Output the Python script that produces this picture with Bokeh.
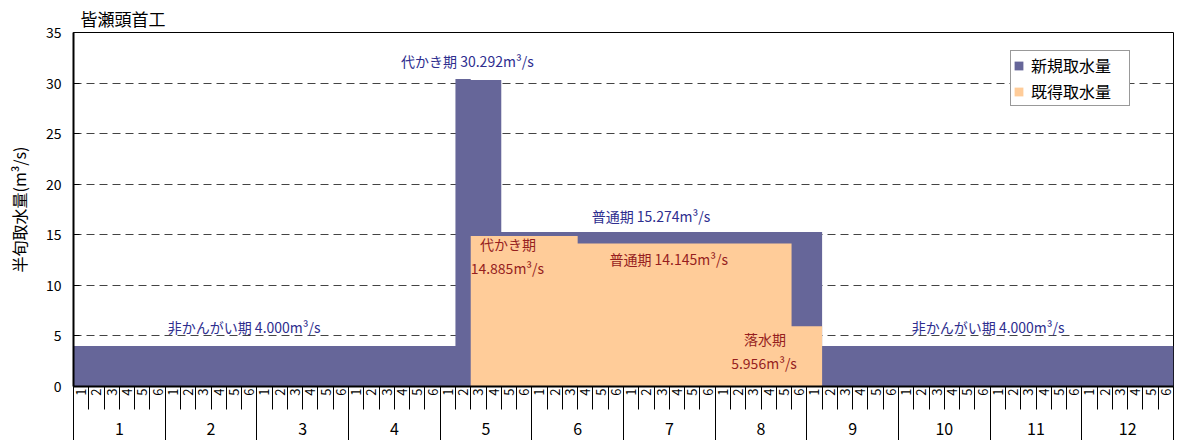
import math
from bokeh.plotting import figure
from bokeh.models import Range1d, LinearAxis, FixedTicker, Legend, LegendItem
from bokeh.core.properties import value
from bokeh.embed import file_html
from bokeh.resources import INLINE

FONT = "Noto Sans CJK JP"

# ---- data -------------------------------------------------------------
title_text = "皆瀬頭首工"
y_label = "半旬取水量(m³/s)"
month_labels = ["1", "2", "3", "4", "5", "6", "7", "8", "9", "10", "11", "12"]
period_labels = ["1", "2", "3", "4", "5", "6"]
series_names = ["新規取水量", "既得取水量"]

# total intake (新規 + 既得) per half-month period, month by month
total_intake = [
    4.0, 4.0, 4.0, 4.0, 4.0, 4.0,                     # 1
    4.0, 4.0, 4.0, 4.0, 4.0, 4.0,                     # 2
    4.0, 4.0, 4.0, 4.0, 4.0, 4.0,                     # 3
    4.0, 4.0, 4.0, 4.0, 4.0, 4.0,                     # 4
    4.0, 30.4, 30.292, 30.292, 15.274, 15.274,        # 5
    15.274, 15.274, 15.274, 15.274, 15.274, 15.274,   # 6
    15.274, 15.274, 15.274, 15.274, 15.274, 15.274,   # 7
    15.274, 15.274, 15.274, 15.274, 15.274, 15.274,   # 8
    15.274, 4.0, 4.0, 4.0, 4.0, 4.0,                  # 9
    4.0, 4.0, 4.0, 4.0, 4.0, 4.0,                     # 10
    4.0, 4.0, 4.0, 4.0, 4.0, 4.0,                     # 11
    4.0, 4.0, 4.0, 4.0, 4.0, 4.0,                     # 12
]
# existing intake (既得取水量)
existing_intake = [
    0, 0, 0, 0, 0, 0,                                 # 1
    0, 0, 0, 0, 0, 0,                                 # 2
    0, 0, 0, 0, 0, 0,                                 # 3
    0, 0, 0, 0, 0, 0,                                 # 4
    0, 0, 14.885, 14.885, 14.885, 14.885,             # 5
    14.885, 14.885, 14.885, 14.145, 14.145, 14.145,   # 6
    14.145, 14.145, 14.145, 14.145, 14.145, 14.145,   # 7
    14.145, 14.145, 14.145, 14.145, 14.145, 5.956,    # 8
    5.956, 0, 0, 0, 0, 0,                             # 9
    0, 0, 0, 0, 0, 0,                                 # 10
    0, 0, 0, 0, 0, 0,                                 # 11
    0, 0, 0, 0, 0, 0,                                 # 12
]

# annotations: text, x (period units), y (m3/s)
blue_notes = ["非かんがい期 4.000m³/s", "代かき期 30.292m³/s", "普通期 15.274m³/s", "非かんがい期 4.000m³/s"]
blue_note_x = [11.17, 25.78, 37.8, 59.87]
blue_note_y = [5.88, 32.16, 16.86, 5.88]
red_notes = ["代かき期", "14.885m³/s", "普通期 14.145m³/s", "落水期", "5.956m³/s"]
red_note_x = [28.44, 28.4, 38.96, 45.26, 45.2]
red_note_y = [14.12, 11.67, 12.65, 4.71, 2.35]

BLUE = "#666699"
ORANGE = "#FFCC99"

# ---- step geometry from data -----------------------------------------
n = len(total_intake)
xs, tot_s, ex_s = [], [], []
for i in range(n):
    xs += [i, i + 1]
    tot_s += [total_intake[i], total_intake[i]]
    ex_s += [existing_intake[i], existing_intake[i]]

p = figure(width=1174, height=440, output_backend="svg", toolbar_location=None,
           x_range=Range1d(0, n), y_range=Range1d(0, 35),
           x_axis_location=None, y_axis_location="left",
           min_border_left=73, min_border_right=1, min_border_top=32, min_border_bottom=54)
p.background_fill_color = "white"
p.border_fill_color = "white"
p.outline_line_color = "black"
p.outline_line_width = 1

p.title.text = title_text
p.title.text_font = FONT
p.title.text_font_size = "17px"
p.title.text_font_style = "normal"
p.title.text_color = "black"
p.title.offset = 7
p.title.standoff = 4

blue_r = p.varea(x=xs, y1=[0] * len(xs), y2=tot_s, fill_color=BLUE)
orange_r = p.varea(x=xs, y1=[0] * len(xs), y2=ex_s, fill_color=ORANGE)

# y axis
yax = p.yaxis[0]
yax.ticker = FixedTicker(ticks=[0, 5, 10, 15, 20, 25, 30, 35])
yax.major_tick_in = 6
yax.major_tick_out = 0
yax.minor_tick_line_color = None
yax.axis_line_width = 2
yax.axis_line_color = "black"
yax.major_tick_line_color = "black"
yax.major_label_text_font = FONT
yax.major_label_text_font_size = "14px"
yax.major_label_text_color = "black"
yax.major_label_standoff = 12
yax.axis_label = y_label
yax.axis_label_text_font = FONT
yax.axis_label_text_font_size = "16px"
yax.axis_label_text_font_style = "normal"
yax.axis_label_text_color = "black"
yax.axis_label_standoff = 12

for g in p.grid:
    if g.dimension == 0:
        g.visible = False
p.ygrid.ticker = FixedTicker(ticks=[5, 10, 15, 20, 25, 30])
p.ygrid.grid_line_color = "#444444"
p.ygrid.grid_line_dash = "8 5"
p.ygrid.grid_line_width = 1

# x axis: periods
centers = [i + 0.5 for i in range(n)]
edges = list(range(n + 1))
ax1 = LinearAxis(ticker=FixedTicker(ticks=centers, minor_ticks=edges),
                 major_label_overrides={c: period_labels[i % 6] for i, c in enumerate(centers)},
                 major_tick_out=0, major_tick_in=0,
                 minor_tick_out=23, minor_tick_in=0, minor_tick_line_color="black",
                 major_label_orientation=math.pi / 2, major_label_standoff=-21,
                 major_label_text_font=FONT, major_label_text_font_size="13px",
                 major_label_text_color="black",
                 axis_line_width=2, axis_line_color="black")
p.add_layout(ax1, "below")

# x axis: months
m_centers = [6 * k + 3 for k in range(len(month_labels))]
m_edges = [6 * k for k in range(len(month_labels) + 1)]
ax2 = LinearAxis(ticker=FixedTicker(ticks=m_centers, minor_ticks=m_edges),
                 major_label_overrides={c: month_labels[k] for k, c in enumerate(m_centers)},
                 major_tick_out=0, major_tick_in=0,
                 minor_tick_out=60, minor_tick_in=0, minor_tick_line_color="black",
                 major_label_standoff=-36,
                 major_label_text_font=FONT, major_label_text_font_size="16px",
                 major_label_text_color="black",
                 axis_line_color=None)
p.add_layout(ax2, "below")

# annotations
p.text(x=blue_note_x, y=blue_note_y, text=blue_notes, text_font=value(FONT),
       text_font_size="14px", text_color="#2E2E8F", text_align="center", text_baseline="middle")
p.text(x=red_note_x, y=red_note_y, text=red_notes, text_font=value(FONT),
       text_font_size="14px", text_color="#961E1E", text_align="center", text_baseline="middle")

legend = Legend(items=[LegendItem(label=series_names[0], renderers=[blue_r]),
                       LegendItem(label=series_names[1], renderers=[orange_r])],
                location=(937, 280), orientation="vertical",
                glyph_width=11, glyph_height=11, label_standoff=7,
                label_text_font=FONT, label_text_font_size="16px", label_text_color="black",
                label_height=20, label_width=96, spacing=2, padding=2, margin=0,
                border_line_color="#333333", border_line_width=1,
                background_fill_color="white", background_fill_alpha=1)
p.add_layout(legend)

open("out.html", "w").write(file_html(p, INLINE))
